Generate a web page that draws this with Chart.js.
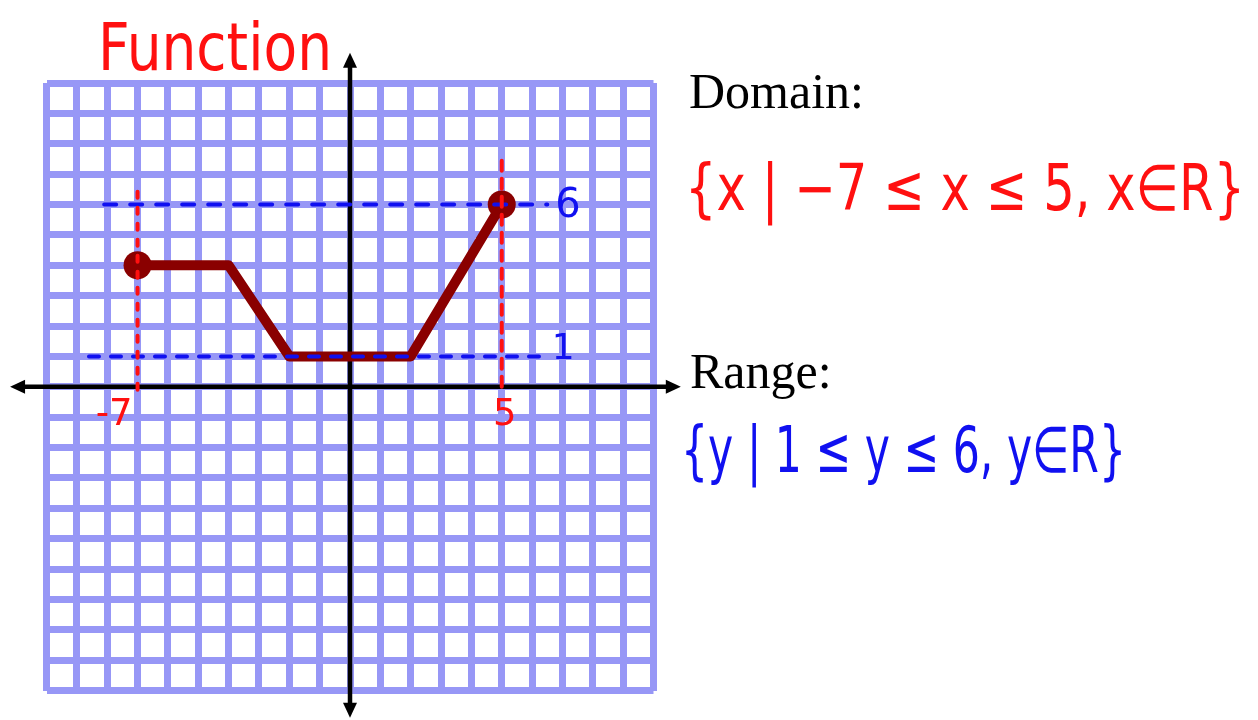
<!DOCTYPE html>
<html>
<head>
<meta charset="utf-8">
<script src="https://cdn.jsdelivr.net/npm/chart.js@4.4.1/dist/chart.umd.min.js"></script>
<style>
  html, body { margin: 0; padding: 0; background: #fff; }
  #wrap { position: relative; width: 1258px; height: 720px; }
</style>
</head>
<body>
<div id="wrap"><canvas id="graph"></canvas></div>
<script>
// the piecewise function that is drawn
const fnX = [-7, -4, -2, 2, 5];
const fnY = [4, 4, 1, 1, 6];

// domain and range bounds
const domainX = [-7, 5];
const rangeY = [1, 6];

// how far the hand drawn guide lines reach
const domainGuideFrom = [-0.1, 0];
const domainGuideTo = [6.6, 7.7];
const rangeGuideFrom = [-8.6, -8.1];
const rangeGuideTo = [6.45, 6.5];

// grid and axes
const gridMin = -10;
const gridMax = 10;
const axisReachX = [-11.2, 10.9];
const axisReachY = [-10.9, 11.0];

// texts
const titleText = 'Function';
const domainLabel = 'Domain:';
const rangeLabel = 'Range:';
const domainText = '{x | −7 ≤ x ≤ 5, x∈R}';
const rangeText = '{y | 1 ≤ y ≤ 6, y∈R}';

const RED = '#ff1010';
const BLUE = '#1010f0';
const DARK = '#8a0000';

function guide(xs, ys, color, dash) {
  return {
    type: 'line',
    data: xs.map((x, i) => ({ x: x, y: ys[i] })),
    borderColor: color,
    borderWidth: 4,
    borderDash: dash,
    borderCapStyle: 'round',
    pointRadius: 0,
    fill: false,
    order: 1
  };
}

const datasets = [
  {
    type: 'line',
    data: fnX.map((x, i) => ({ x: x, y: fnY[i] })),
    borderColor: DARK,
    borderWidth: 10,
    borderJoinStyle: 'round',
    borderCapStyle: 'round',
    backgroundColor: DARK,
    // only the two endpoints get a closed dot
    pointRadius: fnX.map((x, i) => (i === 0 || i === fnX.length - 1) ? 14 : 0),
    pointBorderWidth: 0,
    fill: false,
    order: 2
  },
  guide([domainX[0], domainX[0]], [domainGuideFrom[0], domainGuideTo[0]], RED, [6, 10]),
  guide([domainX[1], domainX[1]], [domainGuideFrom[1], domainGuideTo[1]], RED, [10, 8]),
  guide([rangeGuideFrom[0], rangeGuideTo[0]], [rangeY[0], rangeY[0]], BLUE, [10, 12]),
  guide([rangeGuideFrom[1], rangeGuideTo[1]], [rangeY[1], rangeY[1]], BLUE, [12, 14])
];

function arrowHead(ctx, x, y, dx, dy) {
  const len = 15, half = 7;
  ctx.beginPath();
  ctx.moveTo(x, y);
  ctx.lineTo(x - dx * len - dy * half, y - dy * len + dx * half);
  ctx.lineTo(x - dx * len + dy * half, y - dy * len - dx * half);
  ctx.closePath();
  ctx.fill();
}

const axesPlugin = {
  id: 'axes',
  beforeDatasetsDraw(chart) {
    const ctx = chart.ctx;
    const sx = chart.scales.x, sy = chart.scales.y;
    const x0 = sx.getPixelForValue(0), y0 = sy.getPixelForValue(0);
    const xl = sx.getPixelForValue(axisReachX[0]), xr = sx.getPixelForValue(axisReachX[1]);
    const yb = sy.getPixelForValue(axisReachY[0]), yt = sy.getPixelForValue(axisReachY[1]);
    ctx.save();
    ctx.strokeStyle = '#000';
    ctx.fillStyle = '#000';
    ctx.lineWidth = 4.5;
    ctx.beginPath();
    ctx.moveTo(xl + 8, y0); ctx.lineTo(xr - 8, y0);
    ctx.moveTo(x0, yt + 8); ctx.lineTo(x0, yb - 8);
    ctx.stroke();
    arrowHead(ctx, xl, y0, -1, 0);
    arrowHead(ctx, xr, y0, 1, 0);
    arrowHead(ctx, x0, yt, 0, -1);
    arrowHead(ctx, x0, yb, 0, 1);
    ctx.restore();
  }
};

const textPlugin = {
  id: 'texts',
  afterDraw(chart) {
    const ctx = chart.ctx;
    const sx = chart.scales.x, sy = chart.scales.y;
    const y0 = sy.getPixelForValue(0);
    ctx.save();
    ctx.textBaseline = 'alphabetic';

    // title
    ctx.fillStyle = RED;
    ctx.font = '66px "DejaVu Sans"';
    ctx.textAlign = 'left';
    ctx.fillText(titleText, 98, 70, 234);

    // marks on the axes
    ctx.font = '37px "DejaVu Sans"';
    ctx.textAlign = 'right';
    ctx.fillText('-' + Math.abs(domainX[0]), sx.getPixelForValue(domainX[0]) - 5, y0 + 38);
    ctx.textAlign = 'center';
    ctx.fillText(String(domainX[1]), sx.getPixelForValue(domainX[1]) + 3, y0 + 38);

    ctx.fillStyle = BLUE;
    ctx.textAlign = 'left';
    ctx.textBaseline = 'middle';
    ctx.font = '40px "DejaVu Sans"';
    ctx.fillText(String(rangeY[1]), sx.getPixelForValue(rangeGuideTo[1]) + 8, sy.getPixelForValue(rangeY[1]) + 2);
    ctx.font = '36px "DejaVu Sans"';
    ctx.fillText(String(rangeY[0]), sx.getPixelForValue(rangeGuideTo[0]) + 6, sy.getPixelForValue(rangeY[0]) - 7);

    // domain and range
    ctx.textBaseline = 'alphabetic';
    ctx.fillStyle = '#000';
    ctx.font = '50px "Liberation Serif"';
    ctx.fillText(domainLabel, 689, 108);
    ctx.fillText(rangeLabel, 690, 388);

    ctx.fillStyle = RED;
    ctx.font = '64px "DejaVu Sans"';
    ctx.fillText(domainText, 685, 210, 560);
    ctx.fillStyle = BLUE;
    ctx.fillText(rangeText, 681, 472, 445);
    ctx.restore();
  }
};

const gridStyle = {
  color: '#9797f6',
  lineWidth: 7,
  drawTicks: false
};

new Chart(document.getElementById('graph'), {
  type: 'scatter',
  data: { datasets: datasets },
  options: {
    responsive: true,
    maintainAspectRatio: false,
    animation: false,
    layout: { padding: { left: 46.5, top: 83, right: 604.5, bottom: 29.5 } },
    plugins: { legend: { display: false }, tooltip: { enabled: false } },
    scales: {
      x: {
        type: 'linear', min: gridMin, max: gridMax,
        ticks: { display: false, stepSize: 1 },
        grid: gridStyle,
        border: { display: false }
      },
      y: {
        type: 'linear', min: gridMin, max: gridMax,
        ticks: { display: false, stepSize: 1 },
        grid: gridStyle,
        border: { display: false }
      }
    }
  },
  plugins: [axesPlugin, textPlugin]
});
</script>
</body>
</html>
